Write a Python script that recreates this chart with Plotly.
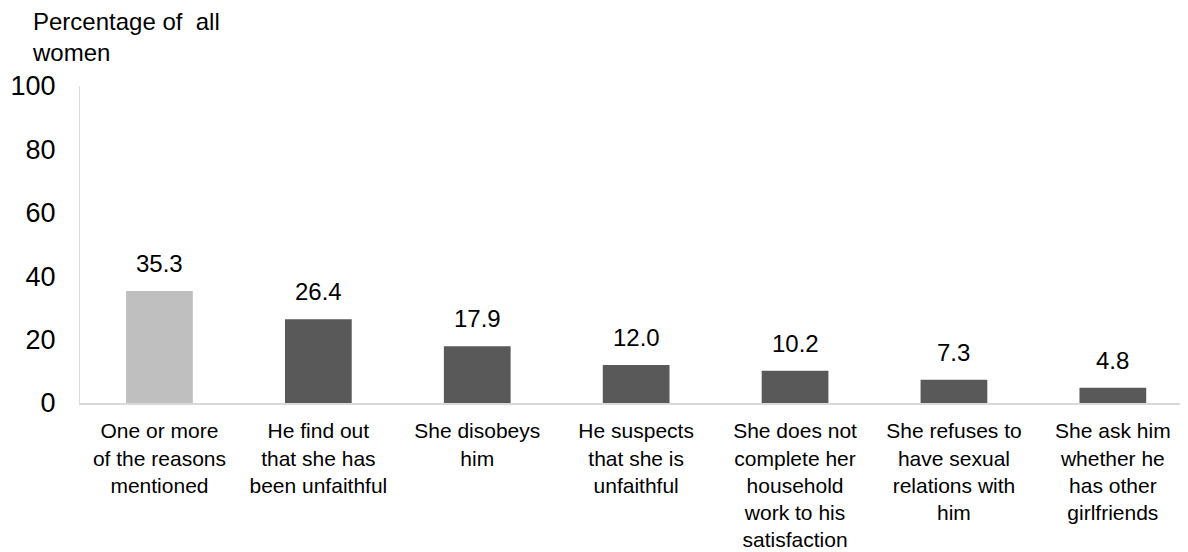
import plotly.graph_objects as go

categories = [
    "One or more<br>of the reasons<br>mentioned",
    "He find out<br>that she has<br>been unfaithful",
    "She disobeys<br>him",
    "He suspects<br>that she is<br>unfaithful",
    "She does not<br>complete her<br>household<br>work to his<br>satisfaction",
    "She refuses to<br>have sexual<br>relations with<br>him",
    "She ask him<br>whether he<br>has other<br>girlfriends",
]
values = [35.3, 26.4, 17.9, 12.0, 10.2, 7.3, 4.8]
labels = ["35.3", "26.4", "17.9", "12.0", "10.2", "7.3", "4.8"]
colors = ["#bfbfbf"] + ["#595959"] * 6
y_ticks = [0, 20, 40, 60, 80, 100]

FONT = "Liberation Sans, Arial, sans-serif"
# page body has an 8px default margin: figure is 1180x544 placed at (8, 8)
FIG_W, FIG_H = 1180, 544
ML, MT, MB, MR = 72, 78, 149, 0
PLOT_W = FIG_W - ML - MR
PLOT_H = FIG_H - MT - MB

fig = go.Figure()
fig.add_trace(go.Bar(
    x=list(range(len(categories))),
    y=values,
    marker=dict(color=colors, line=dict(width=0)),
    width=0.42,
    hoverinfo="skip",
))

for i, (v, t) in enumerate(zip(values, labels)):
    fig.add_annotation(
        x=i, y=v, xref="x", yref="y", text=t, showarrow=False,
        yanchor="bottom", yshift=12,
        font=dict(family=FONT, size=24, color="#000000"),
    )

fig.add_annotation(
    x=-50 / PLOT_W, y=1 + 18 / PLOT_H, xref="paper", yref="paper",
    text="Percentage of  all<br>women",
    showarrow=False, xanchor="left", yanchor="bottom", align="left",
    font=dict(family=FONT, size=24, color="#000000"),
)

fig.update_layout(
    width=FIG_W, height=FIG_H,
    margin=dict(l=ML, r=MR, t=MT, b=MB, autoexpand=False),
    paper_bgcolor="white", plot_bgcolor="white",
    showlegend=False,
    font=dict(family=FONT, color="#000000"),
)
fig.update_xaxes(
    tickmode="array",
    tickvals=list(range(len(categories))),
    ticktext=categories,
    range=[-0.5, -0.5 + PLOT_W / 158.9],
    showgrid=False, zeroline=False,
    showline=True, linecolor="#d9d9d9", linewidth=2,
    ticks="", tickfont=dict(family=FONT, size=21, color="#000000"),
    ticklabelstandoff=8,
    automargin=False,
)
fig.update_yaxes(
    range=[0, 100],
    tickmode="array", tickvals=y_ticks,
    showgrid=False, zeroline=False,
    showline=True, linecolor="#d9d9d9", linewidth=1,
    ticks="", tickfont=dict(family=FONT, size=27, color="#000000"),
    ticklabelstandoff=18,
    automargin=False,
)

fig.write_html("out.html")
